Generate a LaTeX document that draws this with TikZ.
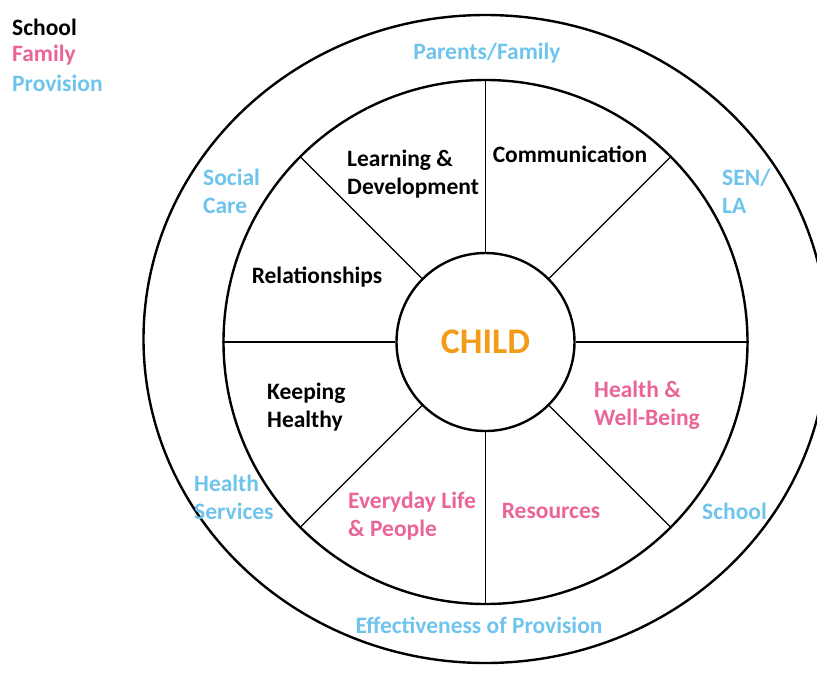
\documentclass[tikz,border=0pt]{standalone}
\usepackage{fontspec}
\setmainfont{Carlito}
\usetikzlibrary{shapes.geometric}
\definecolor{pnk}{RGB}{234,100,152}
\definecolor{blu}{RGB}{110,196,236}
\definecolor{org}{RGB}{243,156,25}

\begin{document}
\begin{tikzpicture}[x=1pt,y=-1pt,
	ring/.style={draw, line width=2.4pt, inner sep=0pt},
	lbl/.style={font=\bfseries\fontsize{23.5}{28}\selectfont, inner sep=0pt, align=left},
	fam/.style={lbl, text=pnk},
	prov/.style={lbl, text=blu}]
\useasboundingbox (0,0) rectangle (817,673);
% rings
\node [ring, ellipse, minimum width=684pt, minimum height=648pt] (o) at (485.5,339) {};
\node [ring, circle, minimum size=524pt] (m) at (485.5,342) {};
\node [ring, circle, minimum size=178pt, text=org,
	font=\bfseries\fontsize{36}{40}\selectfont] (c) at (485.5,342) {CHILD};
\foreach \a in {0,45,...,315}
	\draw [line width=1.2pt] (c.\a) -- (m.\a);
% key
\node [lbl, anchor=west] (k1) at (12,27) {School};
\node [fam, anchor=west] (k2) at (12,55) {Family};
\node [prov, anchor=west] (k3) at (12,83) {Provision};
% outer ring
\node [prov] (pf) at (487,53) {Parents/Family};
\node [prov, anchor=west] (sc) at (203,191) {Social\\Care};
\node [prov, anchor=west] (sen) at (722,191) {SEN/\\LA};
\node [prov, anchor=west] (hs) at (194,497) {Health\\Services};
\node [prov, anchor=west] (sch) at (702,511) {School};
\node [prov] (ep) at (479,625) {Effectiveness of Provision};
% middle ring
\node [lbl, anchor=west] (ld) at (347,174) {Learning \&\\Development};
\node [lbl] (cm) at (570,154) {Communication};
\node [lbl] (rl) at (317,277) {Relationships};
\node [lbl, anchor=west] (kh) at (267,407) {Keeping\\Healthy};
\node [fam, anchor=west] (hw) at (594,405) {Health \&\\Well-Being};
\node [fam, anchor=west] (el) at (348,516) {Everyday Life\\\& People};
\node [fam] (rs) at (551,511) {Resources};
\end{tikzpicture}
\end{document}
